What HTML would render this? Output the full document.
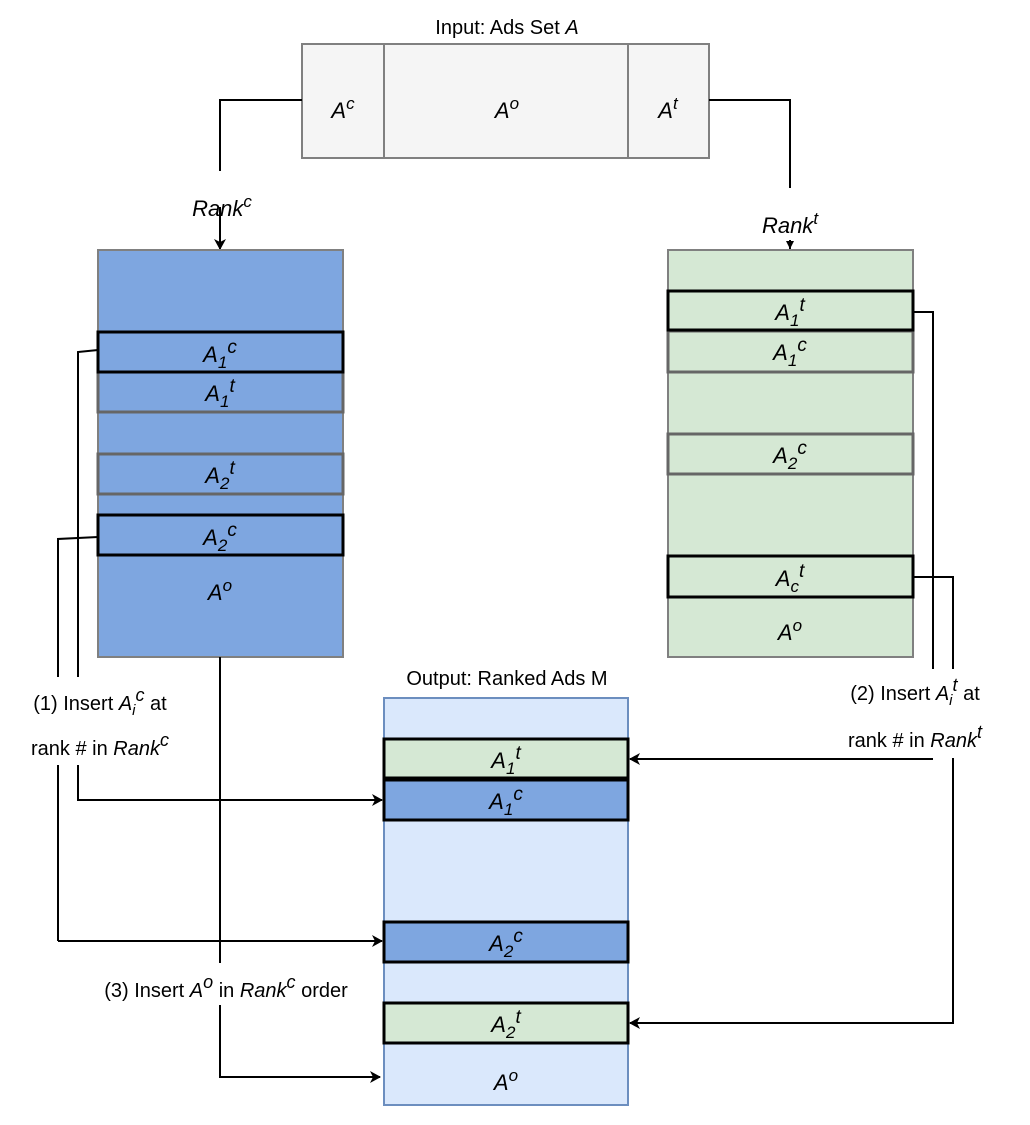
<!DOCTYPE html>
<html><head><meta charset="utf-8"><style>
html,body{margin:0;padding:0;background:#fff;}
svg{display:block;font-family:"Liberation Sans",Arial,sans-serif;}
.t{font-size:20px;fill:#000;}
.i{font-style:italic;font-size:22px;}
</style></head><body>
<svg width="1030" height="1125" viewBox="0 0 1030 1125" xmlns="http://www.w3.org/2000/svg">
<defs>
<marker id="ar" markerWidth="12" markerHeight="12" refX="10" refY="6" orient="auto" markerUnits="userSpaceOnUse">
<path d="M0,0 L11,6 L0,12 L3,6 Z" fill="#000"/></marker>
<marker id="ar2" markerWidth="10" markerHeight="8" refX="8" refY="4" orient="auto" markerUnits="userSpaceOnUse">
<path d="M0,0 L8,4 L0,8 Z" fill="#000"/></marker>
</defs>

<!-- Input -->
<text class="t" x="507" y="34" text-anchor="middle">Input: Ads Set <tspan font-style="italic">A</tspan></text>
<rect x="302" y="44" width="407" height="114" fill="#f5f5f5" stroke="#808080" stroke-width="2"/>
<line x1="384" y1="44" x2="384" y2="158" stroke="#808080" stroke-width="2"/>
<line x1="628" y1="44" x2="628" y2="158" stroke="#808080" stroke-width="2"/>
<text class="i" x="343" y="118" text-anchor="middle">A<tspan dy="-9" font-size="17">c</tspan></text>
<text class="i" x="507" y="118" text-anchor="middle">A<tspan dy="-9" font-size="17">o</tspan></text>
<text class="i" x="668" y="118" text-anchor="middle">A<tspan dy="-9" font-size="17">t</tspan></text>

<!-- connectors top -->
<polyline points="302,100 220,100 220,171" fill="none" stroke="#000" stroke-width="2"/>
<text class="i" x="222" y="216" text-anchor="middle">Rank<tspan dy="-9" font-size="17">c</tspan></text>
<line x1="220" y1="207" x2="220" y2="249" stroke="#000" stroke-width="2" marker-end="url(#ar)"/>
<polyline points="709,100 790,100 790,188" fill="none" stroke="#000" stroke-width="2"/>
<text class="i" x="790" y="233" text-anchor="middle">Rank<tspan dy="-9" font-size="17">t</tspan></text>
<line x1="790" y1="240" x2="790" y2="249" stroke="#000" stroke-width="2" marker-end="url(#ar2)"/>

<!-- Blue box -->
<rect x="98" y="250" width="245" height="407" fill="#7ea6e0" stroke="#808080" stroke-width="2"/>
<rect x="98" y="372" width="245" height="40" fill="#7ea6e0" stroke="#666" stroke-width="3"/>
<rect x="98" y="454" width="245" height="40" fill="#7ea6e0" stroke="#666" stroke-width="3"/>
<rect x="98" y="332" width="245" height="40" fill="#7ea6e0" stroke="#000" stroke-width="3"/>
<rect x="98" y="515" width="245" height="40" fill="#7ea6e0" stroke="#000" stroke-width="3"/>
<text class="i" x="220" y="362" text-anchor="middle">A<tspan dy="6" font-size="17">1</tspan><tspan dy="-15" font-size="19">c</tspan></text>
<text class="i" x="220" y="401" text-anchor="middle">A<tspan dy="6" font-size="17">1</tspan><tspan dy="-15" font-size="19">t</tspan></text>
<text class="i" x="220" y="483" text-anchor="middle">A<tspan dy="6" font-size="17">2</tspan><tspan dy="-15" font-size="19">t</tspan></text>
<text class="i" x="220" y="545" text-anchor="middle">A<tspan dy="6" font-size="17">2</tspan><tspan dy="-15" font-size="19">c</tspan></text>
<text class="i" x="220" y="600" text-anchor="middle">A<tspan dy="-9" font-size="17">o</tspan></text>

<!-- Green box -->
<rect x="668" y="250" width="245" height="407" fill="#d5e8d4" stroke="#808080" stroke-width="2"/>
<rect x="668" y="331" width="245" height="41" fill="#d5e8d4" stroke="#666" stroke-width="3"/>
<rect x="668" y="434" width="245" height="40" fill="#d5e8d4" stroke="#666" stroke-width="3"/>
<rect x="668" y="291" width="245" height="39" fill="#d5e8d4" stroke="#000" stroke-width="3"/>
<rect x="668" y="556" width="245" height="41" fill="#d5e8d4" stroke="#000" stroke-width="3"/>
<text class="i" x="790" y="320" text-anchor="middle">A<tspan dy="6" font-size="17">1</tspan><tspan dy="-15" font-size="19">t</tspan></text>
<text class="i" x="790" y="360" text-anchor="middle">A<tspan dy="6" font-size="17">1</tspan><tspan dy="-15" font-size="19">c</tspan></text>
<text class="i" x="790" y="463" text-anchor="middle">A<tspan dy="6" font-size="17">2</tspan><tspan dy="-15" font-size="19">c</tspan></text>
<text class="i" x="790" y="586" text-anchor="middle">A<tspan dy="6" font-size="17">c</tspan><tspan dy="-15" font-size="19">t</tspan></text>
<text class="i" x="790" y="640" text-anchor="middle">A<tspan dy="-9" font-size="17">o</tspan></text>

<!-- Output -->
<text class="t" x="507" y="685" text-anchor="middle">Output: Ranked Ads M</text>
<rect x="384" y="698" width="244" height="407" fill="#dae8fc" stroke="#6c8ebf" stroke-width="2"/>
<rect x="384" y="739" width="244" height="39" fill="#d5e8d4" stroke="#000" stroke-width="3"/>
<rect x="384" y="780" width="244" height="40" fill="#7ea6e0" stroke="#000" stroke-width="3"/>
<rect x="384" y="922" width="244" height="40" fill="#7ea6e0" stroke="#000" stroke-width="3"/>
<rect x="384" y="1003" width="244" height="40" fill="#d5e8d4" stroke="#000" stroke-width="3"/>
<text class="i" x="506" y="768" text-anchor="middle">A<tspan dy="6" font-size="17">1</tspan><tspan dy="-15" font-size="19">t</tspan></text>
<text class="i" x="506" y="809" text-anchor="middle">A<tspan dy="6" font-size="17">1</tspan><tspan dy="-15" font-size="19">c</tspan></text>
<text class="i" x="506" y="951" text-anchor="middle">A<tspan dy="6" font-size="17">2</tspan><tspan dy="-15" font-size="19">c</tspan></text>
<text class="i" x="506" y="1032" text-anchor="middle">A<tspan dy="6" font-size="17">2</tspan><tspan dy="-15" font-size="19">t</tspan></text>
<text class="i" x="506" y="1090" text-anchor="middle">A<tspan dy="-9" font-size="17">o</tspan></text>

<!-- left connectors -->
<g fill="none" stroke="#000" stroke-width="2">
<polyline points="98,350 78,352 78,677"/>
<polyline points="98,537 58,539 58,677"/>
<line x1="58" y1="765" x2="58" y2="941"/>
<polyline points="58,941 382,941" marker-end="url(#ar)"/>
<polyline points="78,765 78,800 382,800" marker-end="url(#ar)"/>
<line x1="220" y1="657" x2="220" y2="963"/>
<polyline points="220,1005 220,1077 380,1077" marker-end="url(#ar)"/>
<!-- right connectors -->
<polyline points="913,312 933,312 933,669"/>
<polyline points="913,577 953,577 953,669"/>
<polyline points="933,759 630,759" marker-end="url(#ar)"/>
<polyline points="953,758 953,1023 630,1023" marker-end="url(#ar)"/>
</g>

<!-- labels -->
<text class="t" x="100" y="710" text-anchor="middle">(1) Insert <tspan font-style="italic">A</tspan><tspan font-style="italic" font-size="15" dy="5">i</tspan><tspan font-style="italic" font-size="18" dy="-14">c</tspan><tspan dy="9"> at</tspan></text>
<text class="t" x="100" y="755" text-anchor="middle">rank # in <tspan font-style="italic">Rank</tspan><tspan font-style="italic" font-size="18" dy="-9">c</tspan></text>
<text class="t" x="915" y="700" text-anchor="middle">(2) Insert <tspan font-style="italic">A</tspan><tspan font-style="italic" font-size="15" dy="5">i</tspan><tspan font-style="italic" font-size="18" dy="-14">t</tspan><tspan dy="9"> at</tspan></text>
<text class="t" x="915" y="747" text-anchor="middle">rank # in <tspan font-style="italic">Rank</tspan><tspan font-style="italic" font-size="18" dy="-9">t</tspan></text>
<text class="t" x="226" y="997" text-anchor="middle">(3) Insert <tspan font-style="italic">A</tspan><tspan font-style="italic" font-size="18" dy="-9">o</tspan><tspan dy="9"> in </tspan><tspan font-style="italic">Rank</tspan><tspan font-style="italic" font-size="18" dy="-9">c</tspan><tspan dy="9"> order</tspan></text>
</svg>
</body></html>
